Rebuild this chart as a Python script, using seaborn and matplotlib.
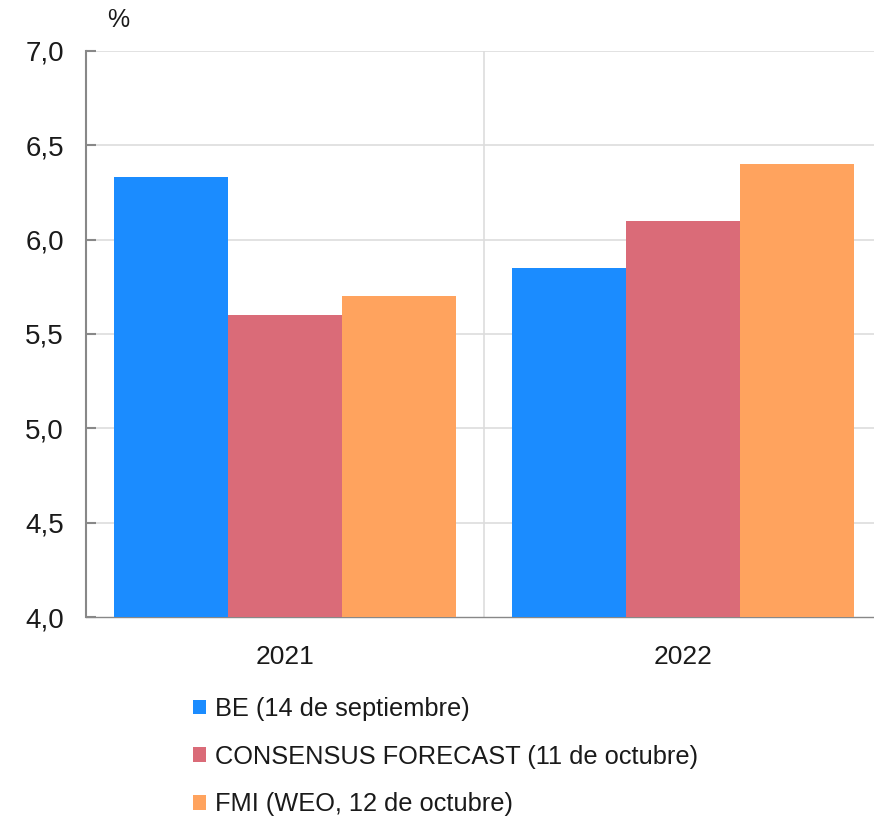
import matplotlib
matplotlib.use("Agg")
import matplotlib.pyplot as plt
import seaborn as sns
import pandas as pd
from matplotlib.patches import Patch

sns.set_theme(style="white")
plt.rcParams["font.family"] = ["Liberation Sans", "DejaVu Sans"]

years = ["2021", "2022"]
series = ["BE (14 de septiembre)", "CONSENSUS FORECAST (11 de octubre)", "FMI (WEO, 12 de octubre)"]
be_values = [6.33, 5.85]
consensus_values = [5.60, 6.10]
fmi_values = [5.70, 6.40]
colors = ["#1B8CFF", "#DA6B78", "#FFA35E"]
y_ticks = [4.0, 4.5, 5.0, 5.5, 6.0, 6.5, 7.0]
y_tick_labels = ["4,0", "4,5", "5,0", "5,5", "6,0", "6,5", "7,0"]

rows = []
for name, vals in zip(series, [be_values, consensus_values, fmi_values]):
    for yr, v in zip(years, vals):
        rows.append({"year": yr, "series": name, "value": v})
df = pd.DataFrame(rows)

fig = plt.figure(figsize=(8.74, 8.18), dpi=100)
ax = fig.add_axes([0.0984, 0.2457, 0.9016, 0.6920])

sns.barplot(data=df, x="year", y="value", hue="series", hue_order=series,
            palette=colors, width=0.857, gap=0, linewidth=0, saturation=1,
            legend=False, ax=ax, zorder=3)

ax.set_ylim(4.0, 7.0)
ax.set_xlim(-0.5, 1.48)
ax.set_yticks(y_ticks)
ax.set_yticklabels(y_tick_labels)
ax.set_xlabel("")
ax.set_ylabel("")

# horizontal gridlines and the separator between years
for t in y_ticks[1:]:
    ax.axhline(t, color="#DDDDDD", lw=1.2, zorder=0)
ax.axvline(0.5, color="#DDDDDD", lw=1.2, zorder=0)

for s in ["top", "right"]:
    ax.spines[s].set_visible(False)
ax.spines["left"].set_color("#888888")
ax.spines["left"].set_linewidth(1.5)
ax.spines["bottom"].set_color("#888888")
ax.spines["bottom"].set_linewidth(1.0)

ax.tick_params(axis="y", direction="in", length=7, width=1.5, color="#888888",
               labelsize=20, pad=16, labelcolor="#1a1a1a", left=True)
ax.tick_params(axis="x", length=0, labelsize=19, pad=20, labelcolor="#1a1a1a")

fig.text(118 / 874, 1 - 20 / 818, "%", fontsize=18, color="#1a1a1a",
         ha="center", va="center")

handles = [Patch(facecolor=c, edgecolor="none") for c in colors]
fig.legend(handles, series, loc="upper left", bbox_to_anchor=(193 / 874, 1 - 697 / 818),
           frameon=False, fontsize=18.3, handlelength=0.52, handleheight=0.52,
           handletextpad=0.33, labelspacing=0.93, borderaxespad=0, borderpad=0,
           labelcolor="#1a1a1a")

fig.savefig("out.png", dpi=100)
